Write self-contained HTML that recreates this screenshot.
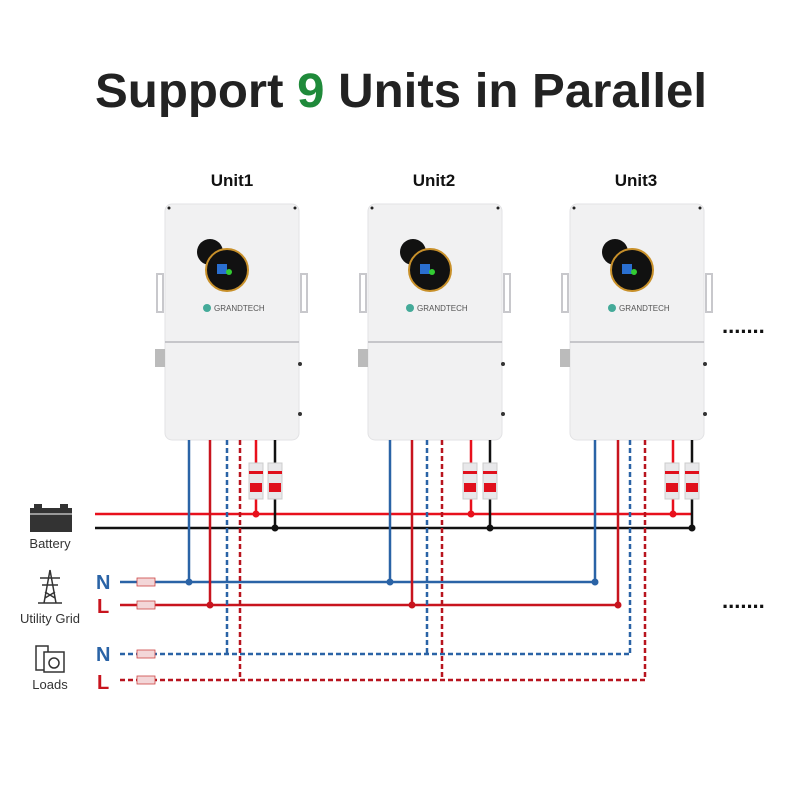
<!DOCTYPE html>
<html><head><meta charset="utf-8"><style>
html,body{margin:0;padding:0;background:#fff;}
svg{display:block;font-family:"Liberation Sans",sans-serif;}
</style></head><body>
<svg width="800" height="800" viewBox="0 0 800 800" xmlns="http://www.w3.org/2000/svg">
<defs>
<g id="unit">
  <rect x="0" y="0" width="134" height="236" rx="7" fill="#f1f1f2" stroke="#e2e2e4"/>
  <line x1="0" y1="138" x2="134" y2="138" stroke="#b8b8bc" stroke-width="1.5"/>
  <rect x="-8" y="70" width="6" height="38" fill="none" stroke="#c8c8cc" stroke-width="2"/>
  <rect x="136" y="70" width="6" height="38" fill="none" stroke="#c8c8cc" stroke-width="2"/>
  <rect x="-10" y="145" width="10" height="18" fill="#bbb"/>
  <circle cx="45" cy="48" r="13" fill="#111"/>
  <circle cx="62" cy="66" r="21" fill="#111" stroke="#c8902a" stroke-width="2"/>
  <rect x="52" y="60" width="10" height="10" fill="#2a6fd0"/>
  <circle cx="64" cy="68" r="3" fill="#3c3"/>
  <circle cx="42" cy="104" r="4" fill="#4a9"/>
  <text x="49" y="107" font-size="8" fill="#555">GRANDTECH</text>
  <circle cx="4" cy="4" r="1.5" fill="#222"/><circle cx="130" cy="4" r="1.5" fill="#222"/>
  <circle cx="135" cy="160" r="2" fill="#333"/><circle cx="135" cy="210" r="2" fill="#333"/>
</g>
<g id="brk">
  <rect x="0" y="0" width="14" height="36" fill="#e8e8ea" stroke="#ccc"/>
  <rect x="0" y="8" width="14" height="3" fill="#e0101c"/>
  <rect x="1" y="20" width="12" height="9" fill="#e0101c"/>
</g>
</defs>
<text x="401" y="107" text-anchor="middle" font-size="48" font-weight="bold" fill="#222" textLength="612" lengthAdjust="spacingAndGlyphs">Support <tspan fill="#1f8a3a">9</tspan> Units in Parallel</text>
<g font-size="17" font-weight="bold" fill="#111" text-anchor="middle">
<text x="232" y="186">Unit1</text><text x="434" y="186">Unit2</text><text x="636" y="186">Unit3</text>
</g>
<use href="#unit" x="165" y="204"/>
<use href="#unit" x="368" y="204"/>
<use href="#unit" x="570" y="204"/>
<g font-size="22" font-weight="bold" fill="#111"><text x="722" y="333">.......</text><text x="722" y="608">.......</text></g>

<line x1="95" y1="514" x2="692" y2="514" stroke="#e8101c" stroke-width="2.5"/>
<line x1="95" y1="528" x2="693" y2="528" stroke="#111" stroke-width="2.5"/>
<line x1="120" y1="582" x2="596" y2="582" stroke="#2a63a6" stroke-width="2.5"/>
<line x1="120" y1="605" x2="619" y2="605" stroke="#c8141e" stroke-width="2.5"/>
<line x1="120" y1="654" x2="631" y2="654" stroke="#2a63a6" stroke-width="2.5" stroke-dasharray="5,3"/>
<line x1="120" y1="680" x2="646" y2="680" stroke="#b8141e" stroke-width="2.5" stroke-dasharray="5,3"/>

<g stroke-width="2.5" fill="none">
<line x1="189" y1="440" x2="189" y2="582" stroke="#2a63a6"/>
<line x1="210" y1="440" x2="210" y2="605" stroke="#c8141e"/>
<line x1="227" y1="440" x2="227" y2="654" stroke="#2a63a6" stroke-dasharray="5,3"/>
<line x1="240" y1="440" x2="240" y2="680" stroke="#b8141e" stroke-dasharray="5,3"/>
<line x1="256" y1="440" x2="256" y2="514" stroke="#e8101c"/>
<line x1="275" y1="440" x2="275" y2="528" stroke="#111"/>
<line x1="390" y1="440" x2="390" y2="582" stroke="#2a63a6"/>
<line x1="412" y1="440" x2="412" y2="605" stroke="#c8141e"/>
<line x1="427" y1="440" x2="427" y2="654" stroke="#2a63a6" stroke-dasharray="5,3"/>
<line x1="442" y1="440" x2="442" y2="680" stroke="#b8141e" stroke-dasharray="5,3"/>
<line x1="471" y1="440" x2="471" y2="514" stroke="#e8101c"/>
<line x1="490" y1="440" x2="490" y2="528" stroke="#111"/>
<line x1="595" y1="440" x2="595" y2="582" stroke="#2a63a6"/>
<line x1="618" y1="440" x2="618" y2="605" stroke="#c8141e"/>
<line x1="630" y1="440" x2="630" y2="654" stroke="#2a63a6" stroke-dasharray="5,3"/>
<line x1="645" y1="440" x2="645" y2="680" stroke="#b8141e" stroke-dasharray="5,3"/>
<line x1="673" y1="440" x2="673" y2="514" stroke="#e8101c"/>
<line x1="692" y1="440" x2="692" y2="528" stroke="#111"/>
</g>
<use href="#brk" x="249" y="463"/><use href="#brk" x="268" y="463"/>
<use href="#brk" x="463" y="463"/><use href="#brk" x="483" y="463"/>
<use href="#brk" x="665" y="463"/><use href="#brk" x="685" y="463"/>
<g>
<circle cx="256" cy="514" r="3.5" fill="#e8101c"/><circle cx="275" cy="528" r="3.5" fill="#111"/>
<circle cx="471" cy="514" r="3.5" fill="#e8101c"/><circle cx="490" cy="528" r="3.5" fill="#111"/>
<circle cx="673" cy="514" r="3.5" fill="#e8101c"/><circle cx="692" cy="528" r="3.5" fill="#111"/>
<circle cx="189" cy="582" r="3.5" fill="#2a63a6"/><circle cx="390" cy="582" r="3.5" fill="#2a63a6"/><circle cx="595" cy="582" r="3.5" fill="#2a63a6"/>
<circle cx="210" cy="605" r="3.5" fill="#c8141e"/><circle cx="412" cy="605" r="3.5" fill="#c8141e"/><circle cx="618" cy="605" r="3.5" fill="#c8141e"/>
</g>
<g fill="#f3d6d8" stroke="#c44" stroke-width="0.8">
<rect x="137" y="578" width="18" height="8"/><rect x="137" y="601" width="18" height="8"/>
<rect x="137" y="650" width="18" height="8"/><rect x="137" y="676" width="18" height="8"/>
</g>
<rect x="30" y="508" width="42" height="24" fill="#333"/>
<rect x="34" y="504" width="8" height="5" fill="#333"/><rect x="60" y="504" width="8" height="5" fill="#333"/>
<line x1="30" y1="514" x2="72" y2="514" stroke="#fff" stroke-width="1"/>
<text x="50" y="548" text-anchor="middle" font-size="13" fill="#333">Battery</text>
<g stroke="#333" stroke-width="1.5" fill="none">
<path d="M50 570 L44 603 M50 570 L56 603 M40 578 H60 M42 585 H58 M45 592 L55 598 M55 592 L45 598"/>
<line x1="38" y1="603" x2="62" y2="603"/>
</g>
<text x="50" y="623" text-anchor="middle" font-size="13" fill="#333">Utility Grid</text>
<g stroke="#333" stroke-width="1.5" fill="#fff">
<rect x="36" y="646" width="12" height="24"/><rect x="44" y="652" width="20" height="20"/>
<circle cx="54" cy="663" r="5"/>
</g>
<text x="50" y="689" text-anchor="middle" font-size="13" fill="#333">Loads</text>
<g font-size="20" font-weight="bold">
<text x="96" y="589" fill="#2a63a6">N</text><text x="97" y="613" fill="#c8141e">L</text>
<text x="96" y="661" fill="#2a63a6">N</text><text x="97" y="689" fill="#c8141e">L</text>
</g>
</svg>
</body></html>
